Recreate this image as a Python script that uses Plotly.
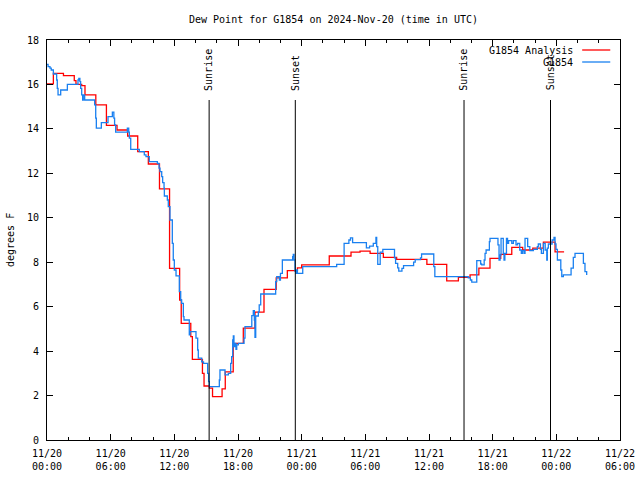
import pandas as pd
import plotly.graph_objects as go

# ---- data (hours after 2024-11-20 00:00 UTC) ----
analysis_hours = [0, 0.6, 1.55, 2.57, 2.73, 3.27, 3.58, 4.6, 5.6, 6.6, 7.6, 8.55, 9.55, 10.6,
                  11.55, 12.5, 12.65, 13.55, 13.7, 14.65, 14.8, 15.3, 15.6, 16.5, 16.8, 17.55,
                  18.5, 19.6, 20.45, 21.6, 22.65, 23.6, 24.0, 26.6, 28.65, 29.5, 30.45, 31.7,
                  32.95, 35.8, 37.67, 38.77, 39.87, 40.7, 41.75, 42.76, 43.8, 44.83, 45.78,
                  46.78, 47.88, 48.73]
analysis_vals = [16.03, 16.5, 16.4, 16.17, 16.0, 15.95, 15.53, 15.08, 14.16, 13.95, 13.68, 12.98,
                 12.42, 11.3, 7.72, 6.3, 5.25, 4.65, 3.63, 3.0, 2.43, 2.33, 1.95, 2.3, 3.07, 4.35,
                 5.03, 5.75, 6.78, 7.3, 7.62, 7.75, 7.88, 8.28, 8.45, 8.5, 8.4, 8.22, 8.13, 7.9,
                 7.16, 7.32, 7.43, 7.73, 8.17, 8.35, 8.67, 8.55, 8.63, 8.9, 8.47, 8.47]

obs_hours = [0.0, 0.1, 0.28, 0.4, 0.6, 0.91, 0.97, 1.04, 1.29, 1.92, 2.92, 3.0, 3.1, 3.17, 3.27,
             3.36, 3.42, 3.55, 4.49, 4.59, 4.65, 5.12, 5.75, 6.16, 6.3, 6.37, 6.47, 7.57, 7.7,
             7.76, 7.89, 8.7, 9.17, 9.33, 9.64, 10.4, 10.56, 10.65, 10.81, 10.9, 11.03, 11.06,
             11.34, 11.43, 11.59, 11.81, 11.9, 12.0, 12.16, 12.47, 12.6, 12.69, 12.85, 12.91,
             13.41, 13.48, 14.04, 14.2, 14.26, 14.58, 14.75, 15.14, 15.23, 15.3, 16.24, 16.3,
             16.78, 17.09, 17.31, 17.4, 17.5, 17.56, 17.62, 17.72, 17.81, 17.88, 18.03, 18.57,
             18.66, 19.3, 19.44, 19.54, 19.6, 19.67, 19.92, 20.0, 20.14, 21.55, 21.65, 21.9,
             22.0, 22.18, 23.15, 23.21, 23.28, 23.37, 23.47, 23.53, 23.6, 24.1, 27.3, 28.0,
             28.45, 28.6, 28.8, 30.1, 30.4, 30.75, 31.0, 31.07, 31.17, 31.4, 31.65, 32.75,
             32.85, 33.05, 33.15, 33.45, 33.6, 34.55, 34.7, 35.2, 35.3, 36.45, 36.55, 39.7,
             39.9, 40.03, 40.5, 40.87, 40.97, 41.2, 41.28, 41.38, 41.69, 41.75, 42.5, 42.6,
             42.7, 42.79, 43.0, 43.07, 43.15, 43.3, 43.4, 43.5, 43.8, 43.95, 44.2, 44.35,
             44.55, 44.7, 44.8, 44.95, 45.05, 45.3, 45.5, 45.84, 46.21, 46.3, 46.5, 46.59,
             46.78, 46.95, 47.1, 47.15, 47.25, 47.6, 47.78, 47.88, 47.97, 48.1, 48.42, 48.51,
             48.66, 49.39, 49.6, 49.76, 50.55, 50.7, 50.86]
obs_vals = [16.9, 16.8, 16.73, 16.65, 16.47, 16.2, 15.82, 15.53, 15.75, 16.0, 16.2, 16.27, 16.13,
            15.82, 15.53, 15.3, 15.53, 15.3, 15.08, 14.48, 14.03, 14.28, 14.55, 14.75, 14.48,
            14.18, 13.85, 14.03, 13.85, 13.58, 13.08, 12.98, 12.83, 12.75, 12.53, 12.45, 12.23,
            12.08, 11.85, 11.58, 11.33, 10.98, 10.8, 10.5, 9.9, 8.85, 8.1, 7.65, 7.39, 6.68,
            6.3, 6.15, 5.55, 5.4, 4.73, 4.88, 4.58, 4.05, 3.68, 3.52, 3.45, 3.0, 2.63, 2.4,
            2.7, 3.15, 2.93, 3.0, 3.45, 3.75, 4.5, 4.68, 4.2, 4.35, 4.08, 4.28, 4.35, 4.58,
            5.1, 5.6, 5.82, 5.4, 4.62, 5.58, 5.77, 6.08, 6.57, 7.13, 7.35, 7.2, 7.5, 8.1, 8.25,
            8.35, 8.1, 7.6, 7.5, 7.65, 7.5, 7.8, 7.9, 8.85, 9.0, 9.1, 8.88, 8.65, 8.72, 8.85,
            9.12, 8.7, 7.9, 8.45, 8.58, 8.2, 7.95, 7.75, 7.6, 7.72, 7.85, 8.0, 8.12, 8.2, 8.37,
            7.8, 7.35, 7.3, 7.2, 7.1, 8.07, 7.92, 7.88, 8.1, 8.4, 8.55, 8.93, 9.07, 8.78, 8.1,
            8.33, 9.07, 8.4, 8.1, 8.4, 9.07, 8.85, 8.97, 8.85, 8.97, 8.78, 8.85, 8.55, 8.4,
            8.52, 8.4, 9.07, 8.7, 8.52, 8.58, 8.7, 8.82, 8.58, 8.4, 8.85, 8.55, 8.1, 8.63,
            8.82, 9.0, 9.12, 8.82, 8.58, 8.1, 7.65, 7.35, 7.43, 7.73, 8.22, 8.4, 7.95, 7.58,
            7.43]

event_hours = [15.28, 23.4, 39.3, 47.45]
event_labels = ["Sunrise", "Sunset", "Sunrise", "Sunset"]

tick_hours = [0, 6, 12, 18, 24, 30, 36, 42, 48, 54]
tick_labels = ["11/20<br>00:00", "11/20<br>06:00", "11/20<br>12:00", "11/20<br>18:00",
               "11/21<br>00:00", "11/21<br>06:00", "11/21<br>12:00", "11/21<br>18:00",
               "11/22<br>00:00", "11/22<br>06:00"]
y_ticks = [0, 2, 4, 6, 8, 10, 12, 14, 16, 18]

base = pd.Timestamp("2024-11-20 00:00")
def to_time(hours):
    return [base + pd.Timedelta(hours=h) for h in hours]

FONT = "DejaVu Sans Mono"
RED = "#ff0000"
BLUE = "#1a80f0"

fig = go.Figure()
fig.add_trace(go.Scatter(x=to_time(analysis_hours), y=analysis_vals, mode="lines",
                         line=dict(color=RED, width=1.3, shape="hv"),
                         name="G1854 Analysis", showlegend=False))
fig.add_trace(go.Scatter(x=to_time(obs_hours), y=obs_vals, mode="lines",
                         line=dict(color=BLUE, width=1.3, shape="hv"),
                         name="G1854", showlegend=False))

shapes = []
annotations = []
for t, lab in zip(to_time(event_hours), event_labels):
    shapes.append(dict(type="line", xref="x", yref="paper", x0=t, x1=t, y0=0, y1=0.85,
                       line=dict(color="black", width=1)))
    annotations.append(dict(text=lab, x=t, xref="x", y=0.868, yref="paper", textangle=-90,
                            xanchor="center", yanchor="bottom", showarrow=False,
                            font=dict(family=FONT, size=10, color="black")))

# legend drawn manually (text right-aligned, sample line on the right)
leg = [("G1854 Analysis", RED, 0.975), ("G1854", BLUE, 0.945)]
for name, col, yy in leg:
    annotations.append(dict(text=name, x=0.9215, xref="paper", y=yy, yref="paper",
                            xanchor="right", yanchor="middle", showarrow=False,
                            font=dict(family=FONT, size=10, color="black")))
    shapes.append(dict(type="line", xref="paper", yref="paper", x0=0.934, x1=0.983,
                       y0=yy, y1=yy, line=dict(color=col, width=1.3)))

annotations.append(dict(text="degrees F", x=0, xref="paper", xshift=-37, y=0.5, yref="paper",
                        textangle=-90, xanchor="center", yanchor="middle", showarrow=False,
                        font=dict(family=FONT, size=10, color="black")))

fig.update_layout(
    width=640, height=480,
    margin=dict(l=47, r=20, t=40, b=40, autoexpand=False),
    paper_bgcolor="white", plot_bgcolor="white",
    font=dict(family=FONT, size=10, color="black"),
    title=dict(text="Dew Point for G1854 on 2024-Nov-20 (time in UTC)", x=0.5, xref="paper",
               xanchor="center", y=1 - 19 / 480, yref="container", yanchor="middle",
               font=dict(family=FONT, size=10, color="black")),
    shapes=shapes, annotations=annotations, showlegend=False,
)
fig.update_xaxes(type="date", range=[base, base + pd.Timedelta(hours=54)],
                 tickvals=to_time(tick_hours), ticktext=tick_labels,
                 ticks="inside", ticklen=6, tickcolor="black", tickwidth=1,
                 ticklabelstandoff=4, automargin=False,
                 minor=dict(dtick=2 * 3600000, ticks="inside", ticklen=3, tickcolor="black"),
                 showline=True, linecolor="black", linewidth=1, mirror="ticks",
                 showgrid=False, zeroline=False, tickfont=dict(family=FONT, size=10))
fig.update_yaxes(range=[0, 18], tickvals=y_ticks, ticks="inside", ticklen=6,
                 tickcolor="black", showline=True, linecolor="black", linewidth=1,
                 mirror="ticks", showgrid=False, zeroline=False, ticklabelstandoff=5,
                 automargin=False, tickfont=dict(family=FONT, size=10))

# remove the default 8px page margin so the 640x480 figure sits at the window origin
fig.write_html("out.html", config={"displayModeBar": False},
               post_script="document.body.style.margin='0';"
                           "document.body.style.overflow='hidden';")
